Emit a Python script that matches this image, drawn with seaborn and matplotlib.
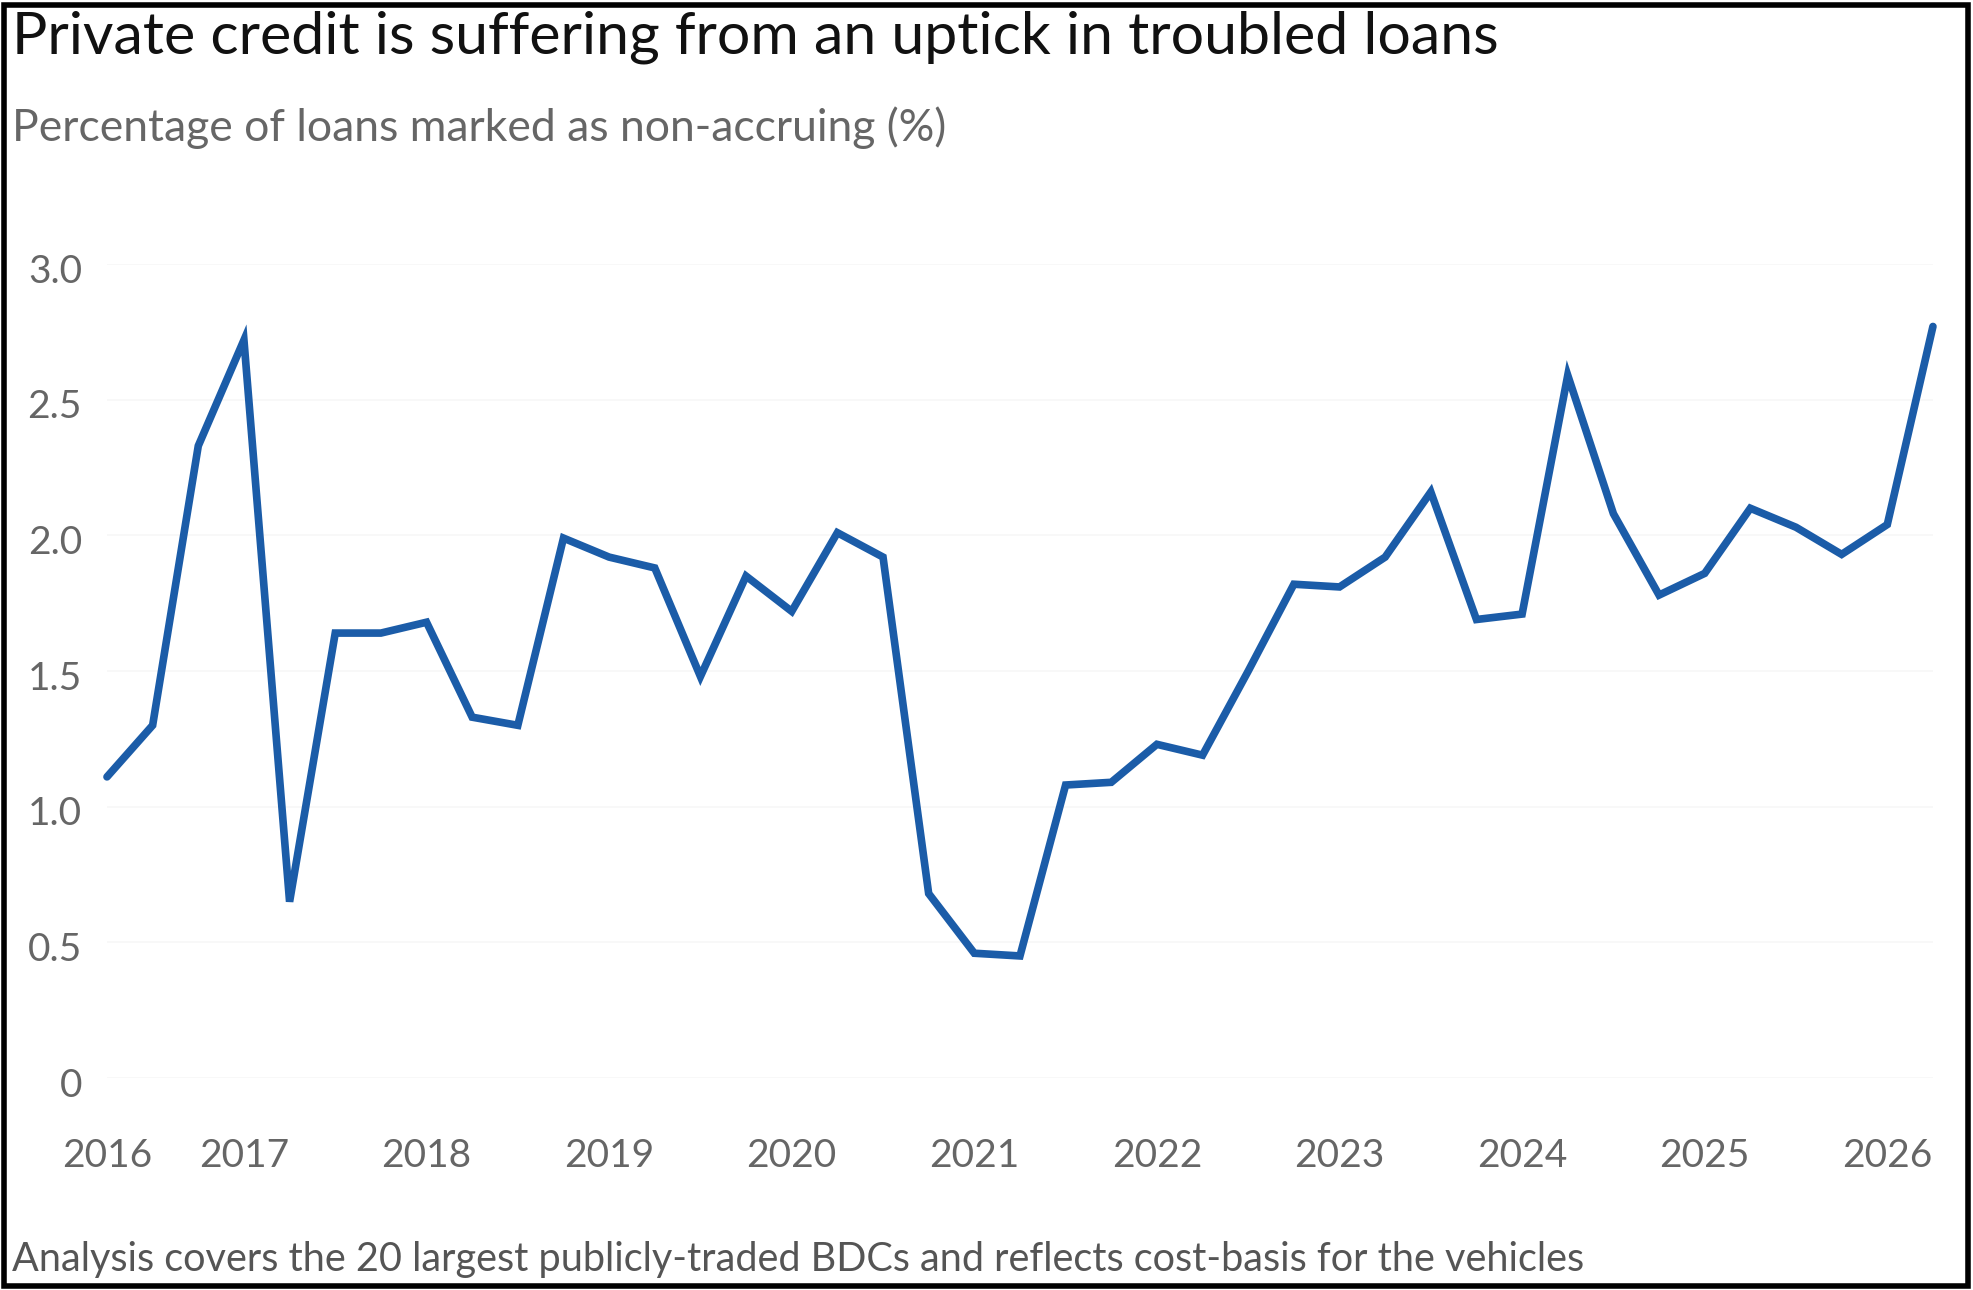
import numpy as np
import pandas as pd
import matplotlib
matplotlib.use("Agg")
import matplotlib.pyplot as plt
import matplotlib.transforms as mtransforms
from matplotlib.patches import Rectangle
import seaborn as sns

# quarterly readings, Q2 2016 .. Q2 2026
start_year = 2016.25
non_accrual = [1.11, 1.30, 2.33, 2.72, 0.65, 1.64, 1.64, 1.68, 1.33, 1.30,
               1.99, 1.92, 1.88, 1.48, 1.85, 1.72, 2.01, 1.92, 0.68, 0.46,
               0.45, 1.08, 1.09, 1.23, 1.19, 1.50, 1.82, 1.81, 1.92, 2.16,
               1.69, 1.71, 2.59, 2.08, 1.78, 1.86, 2.10, 2.03, 1.93, 2.04,
               2.77]
year_ticks = [2016.25, 2017, 2018, 2019, 2020, 2021, 2022, 2023, 2024, 2025, 2026]
year_labels = ["2016", "2017", "2018", "2019", "2020", "2021", "2022",
               "2023", "2024", "2025", "2026"]
y_ticks = [0, 0.5, 1.0, 1.5, 2.0, 2.5, 3.0]
y_labels = ["0", "0.5", "1.0", "1.5", "2.0", "2.5", "3.0"]

df = pd.DataFrame({"quarter": start_year + 0.25 * np.arange(len(non_accrual)),
                   "pct": non_accrual})

sns.set_theme(style="white")
plt.rcParams['font.family'] = ['Lato', 'DejaVu Sans']

fig = plt.figure(figsize=(19.74, 12.90), dpi=100)
ax = fig.add_axes([0.0542, 0.1643, 0.925, 0.631])

sns.lineplot(data=df, x="quarter", y="pct", color="#1b5ca8", linewidth=5.5, ax=ax)
ax.lines[0].set_clip_on(False)
ax.lines[0].set_solid_joinstyle("miter")

ax.set_xlim(2016.25, 2026.25)
ax.set_ylim(0, 3.0)
ax.set_xticks(year_ticks)
ax.set_xticklabels(year_labels)
ax.set_yticks(y_ticks)
ax.set_yticklabels(y_labels, ha="right")
ax.tick_params(axis="both", length=0, labelsize=28, labelcolor="#666666")
ax.tick_params(axis="y", pad=18)
ax.tick_params(axis="x", pad=43)
ax.set_xlabel("")
ax.set_ylabel("")
for s in ax.spines.values():
    s.set_visible(False)
ax.grid(axis="y", color="#f7f7f7", linewidth=1.2)
ax.grid(axis="x", visible=False)

# labels sit a little below the gridlines
shift = mtransforms.ScaledTranslation(0, -0.04, fig.dpi_scale_trans)
for lab in ax.get_yticklabels():
    lab.set_transform(lab.get_transform() + shift)

fig.text(0.006, 0.971, "Private credit is suffering from an uptick in troubled loans",
         fontsize=42.5, color="#111111", ha="left", va="center")
fig.text(0.006, 0.901, "Percentage of loans marked as non-accruing (%)",
         fontsize=32, color="#666666", ha="left", va="center")
fig.text(0.006, 0.024, "Analysis covers the 20 largest publicly-traded BDCs and reflects cost-basis for the vehicles",
         fontsize=28.5, color="#555555", ha="left", va="center")

fig.patches.append(Rectangle((0.002, 0.003), 0.995, 0.993, transform=fig.transFigure,
                             fill=False, edgecolor="black", linewidth=4))

fig.savefig("out.png", dpi=100)
